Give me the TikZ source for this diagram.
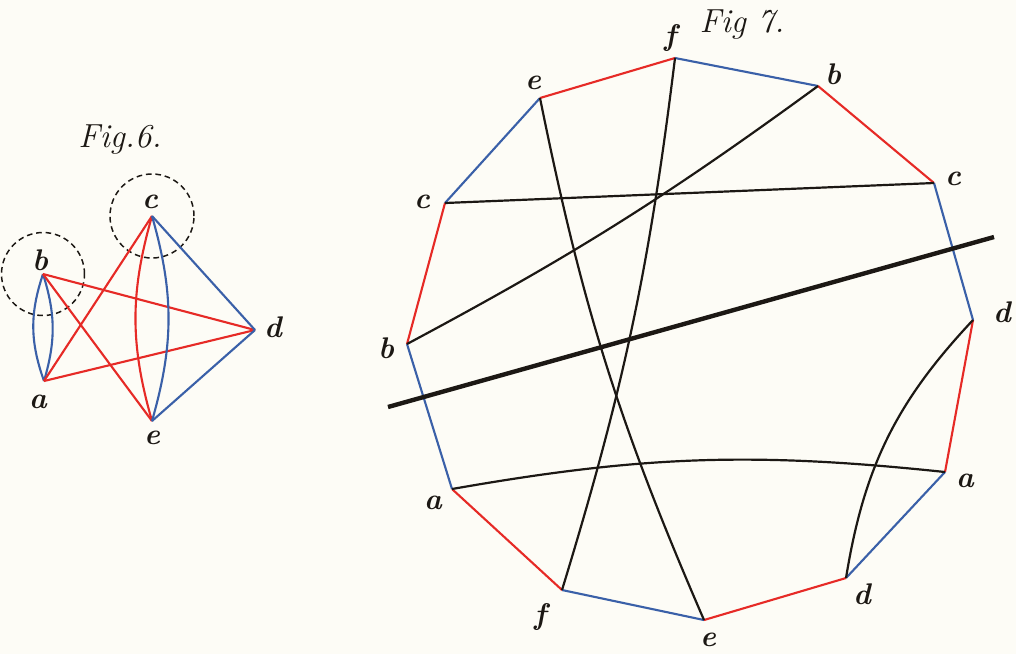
\documentclass[tikz,border=0pt]{standalone}
\usepackage{xcolor}
\usepackage{tikz}

\definecolor{paper}{RGB}{253,252,246}
\definecolor{inkred}{RGB}{230,42,38}
\definecolor{inkblue}{RGB}{58,96,168}
\definecolor{inkblack}{RGB}{28,24,20}

\tikzset{
  redline/.style={inkred, line width=1.2pt},
  blueline/.style={inkblue, line width=1.2pt},
  chord/.style={inkblack, line width=1.25pt},
  ring/.style={draw=inkblack, dash pattern=on 3.2pt off 2.2pt, line width=0.85pt},
  lab/.style={inkblack, font=\fontsize{17}{20}\selectfont\bfseries\itshape},
  figlab/.style={inkblack, font=\fontsize{19}{22}\selectfont\itshape}
}

\begin{document}
\begin{tikzpicture}[x=0.02cm, y=-0.02cm]

\fill[paper] (0,0) rectangle (1016,654);
\useasboundingbox (0,0) rectangle (1016,654);

% Fig. 6
\node[figlab] (fig6) at (120,140) {Fig.6.};
\coordinate (b6) at (43,274);
\coordinate (a6) at (44,381);
\coordinate (c6) at (152,216);
\coordinate (d6) at (255,330);
\coordinate (e6) at (152,421);

\draw[ring] (b6) circle[radius=0.83cm];
\draw[ring] (c6) circle[radius=0.84cm];

\draw[blueline] (b6) to[bend left=17] (a6);
\draw[blueline] (b6) to[bend right=19] (a6);
\draw[redline] (b6) -- (d6);
\draw[redline] (b6) -- (e6);
\draw[redline] (a6) -- (c6);
\draw[redline] (a6) -- (d6);
\draw[redline] (c6) to[bend right=16] (e6);
\draw[blueline] (c6) to[bend left=16] (e6);
\draw[blueline] (c6) -- (d6);
\draw[blueline] (d6) -- (e6);

\node[lab] (lb6) at (40,260) {b};
\node[lab] (lc6) at (150,202) {c};
\node[lab] (ld6) at (273,327) {d};
\node[lab] (la6) at (38,402) {a};
\node[lab] (le6) at (152,438) {e};

% Fig. 7
\node[figlab] (fig7) at (742,25) {Fig 7.};
\coordinate (f1) at (675,58);
\coordinate (b1) at (818,86);
\coordinate (c1) at (934,183);
\coordinate (d1) at (973,320);
\coordinate (a1) at (945,472);
\coordinate (d2) at (846,578);
\coordinate (e2) at (704,620);
\coordinate (f2) at (562,590);
\coordinate (a2) at (452,489);
\coordinate (b2) at (407,344);
\coordinate (c2) at (445,203);
\coordinate (e1) at (540,98);
\coordinate (t1) at (388,407);
\coordinate (t2) at (994,237);

\draw[blueline] (f1) -- (b1);
\draw[redline] (b1) -- (c1);
\draw[blueline] (c1) -- (d1);
\draw[redline] (d1) -- (a1);
\draw[blueline] (a1) -- (d2);
\draw[redline] (d2) -- (e2);
\draw[blueline] (e2) -- (f2);
\draw[redline] (f2) -- (a2);
\draw[blueline] (a2) -- (b2);
\draw[redline] (b2) -- (c2);
\draw[blueline] (c2) -- (e1);
\draw[redline] (e1) -- (f1);

\draw[chord] (e1) to[bend right=6] (e2);
\draw[chord] (f1) to[bend left=5] (f2);
\draw[chord] (b1) to[bend left=4] (b2);
\draw[chord] (c2) -- (c1);
\draw[chord] (a2) to[bend left=8] (a1);
\draw[chord] (d1) to[bend right=17] (d2);
\draw[chord, line width=2.5pt] (t1) -- (t2);

\node[lab] (lf1) at (670,38) {f};
\node[lab] (lb1) at (833,74) {b};
\node[lab] (lc1) at (953,179) {c};
\node[lab] (ld1) at (1002,312) {d};
\node[lab] (la1) at (965,481) {a};
\node[lab] (ld2) at (862,594) {d};
\node[lab] (le2) at (708,640) {e};
\node[lab] (lf2) at (540,617) {f};
\node[lab] (la2) at (433,503) {a};
\node[lab] (lb2) at (386,348) {b};
\node[lab] (lc2) at (422,202) {c};
\node[lab] (le1) at (533,83) {e};

\end{tikzpicture}
\end{document}
